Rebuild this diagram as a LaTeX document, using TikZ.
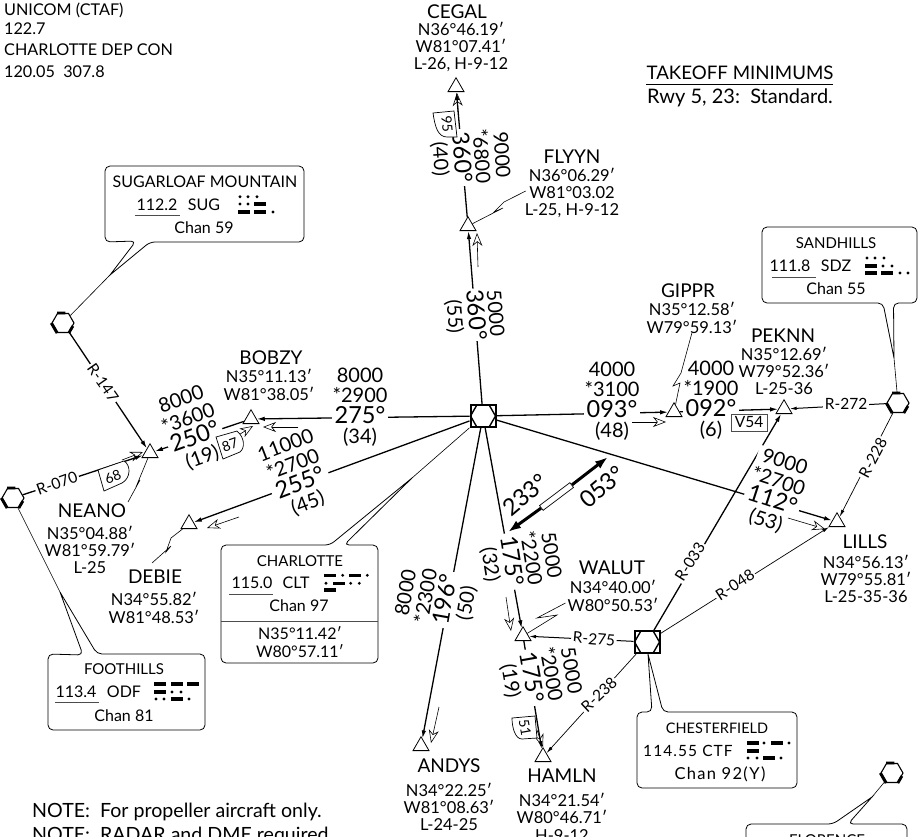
\documentclass[tikz,border=0pt]{standalone}
\usepackage{fontspec}
\setmainfont{Lato}
\usetikzlibrary{arrows.meta,shapes.geometric,calc}
\newcommand\fs[2]{\fontsize{#1}{#2}\selectfont}
\newcommand\mdsh[2]{\fill (#1,#2-1.6) rectangle (#1+11.5,#2+1.6);}
\newcommand\mdt[2]{\fill (#1,#2) circle (1.6pt);}
\newcommand\hexmark[3]{%
  \node[hexn] (#1) at (#2,#3) {};
  \draw[line width=3pt] (#1.corner 3) -- (#1.corner 4);
  \draw[line width=2.8pt] ($(#1.corner 1)!.3!(#1.corner 2)$) -- (#1.corner 2);
  \draw[line width=2.8pt] ($(#1.corner 6)!.3!(#1.corner 5)$) -- (#1.corner 5);
}
\newcommand\hdg[1]{{\fontsize{23.5}{0}\selectfont #1}}
\tikzset{
  trin/.style={draw,regular polygon,regular polygon sides=3,minimum size=18.5pt,inner sep=0pt,line width=.8pt,fill=white},
  hexn/.style={draw,regular polygon,regular polygon sides=6,minimum size=22pt,inner sep=0pt,line width=1.1pt,fill=white},
  hubbox/.style={draw,rectangle,minimum width=25pt,minimum height=22pt,inner sep=0pt,line width=2pt},
  hubhex/.style={draw,regular polygon,regular polygon sides=6,minimum size=25pt,inner sep=0pt,line width=1.4pt},
  route/.style={line width=1.3pt,-{Latex[length=8pt,width=4.5pt]}},
  rad/.style={line width=.7pt,-{Latex[length=7pt,width=3.5pt]}},
  radm/.style={line width=1pt,-{Latex[length=7pt,width=3.5pt]}},
  hollow/.style={line width=.6pt,-{Stealth[open,length=13pt,width=10pt,inset=4pt]}},
  leader/.style={line width=.6pt},
  callout/.style={draw,line width=.8pt,fill=white,rounded corners=5pt},
  nm/.style={inner sep=0pt,font=\fs{19}{20}},
  crd/.style={inner sep=0pt,align=center,font=\fs{16.5}{17.4}},
  bxt/.style={inner sep=0pt,font=\fs{16}{17}},
  bxs/.style={inner sep=0pt,font=\fs{15}{17}},
  blk/.style={inner sep=1pt,fill=white,align=center,font={\fs{20}{20.5}\lineskiplimit=-100pt}},
  rlab/.style={inner sep=1.5pt,fill=white,font=\fs{15.5}{17}},
  flg/.style={inner sep=0pt,font=\fs{14}{15}},
  txt/.style={inner sep=0pt,anchor=west,font=\fs{16.2}{18}},
}
\begin{document}
\begin{tikzpicture}[x=1pt,y=-1pt]
\useasboundingbox (0,0) rectangle (919,836);
\clip (0,0) rectangle (919,836);
\fill[white] (0,0) rectangle (919,836);
% header texts
\node[txt] (t1) at (4,10) {UNICOM (CTAF)};
\node[txt] (t2) at (4,29) {122.7};
\node[txt] (t3) at (4,50) {CHARLOTTE DEP CON};
\node[txt] (t4) at (4,72) {120.05\ \ 307.8};
\node[inner sep=0pt,font=\fs{18.7}{20}] (tk) at (740,73) {TAKEOFF MINIMUMS};
\node[inner sep=0pt,font=\fs{20}{21}] (rw) at (740,98) {Rwy 5, 23:\ \ Standard.};
\draw[line width=.8pt] (646,84.5) -- (833,84.5);
\node[inner sep=0pt,anchor=west,font=\fs{19.6}{21}] (n1) at (32,812) {NOTE:\ \ For propeller aircraft only.};
\node[inner sep=0pt,anchor=west,font=\fs{19.6}{21}] (n2) at (32,836) {NOTE:\ \ RADAR and DME required.};
% fixes
\node[hubbox] (hub) at (483,416) {};
\node[hubhex] (hubh) at (483,416) {};
\node[hubbox] (ctf) at (647,642) {};
\node[hubhex] (ctfh) at (647,642) {};
\node[trin] (bobzy) at (251,419) {};
\node[trin] (neano) at (150,453) {};
\node[trin] (debie) at (189,524) {};
\node[trin] (gippr) at (674,412) {};
\node[trin] (pekn) at (784,409) {};
\node[trin] (lills) at (837,522) {};
\node[trin] (walut) at (523,636) {};
\node[trin] (andys) at (421,746) {};
\node[trin] (hamln) at (543,757) {};
\node[trin] (cegal) at (456,87) {};
\node[trin] (flyyn) at (468,226) {};
\hexmark{sug}{63}{323}
\hexmark{odf}{13}{498}
\hexmark{sdz}{898}{403}
\hexmark{flo}{892}{773}
% routes
\draw[route] (hub) -- (flyyn);
\draw[route] (flyyn) -- (cegal);
\draw[route] (hub) -- (bobzy);
\draw[route] (bobzy) -- (neano);
\draw[route] (hub) -- (debie);
\draw[route] (hub) -- (gippr);
\draw[route] (gippr) -- (pekn);
\draw[route] (hub) -- (lills);
\draw[route] (hub) -- (walut);
\draw[route] (walut) -- (hamln);
\draw[route] (hub) -- (andys);
\draw[route] (ctf) -- (pekn);
% radials
\draw[route] (sug) -- (neano);
\draw[route] (odf) -- (neano);
\draw[radm] (sdz) -- (pekn);
\draw[rad] (sdz) -- (lills);
\draw[rad] (ctf) -- (lills);
\draw[radm] (ctf) -- (walut);
\draw[rad] (ctf) -- (hamln);
% radial labels
\node[rlab,rotate=-55] (r147) at (103,383) {R-147};
\node[rlab,rotate=20] (r070) at (57,483) {R-070};
\node[rlab] (r272) at (846,404) {R-272};
\node[rlab,rotate=62] (r228) at (873,458) {R-228};
\node[rlab,rotate=58] (r033) at (690,562) {R-033};
\node[rlab,rotate=33] (r048) at (735,585) {R-048};
\node[rlab,rotate=-5] (r275) at (594,639) {R-275};
\node[rlab,rotate=43] (r238) at (599,695) {R-238};
% route blocks
\node[blk,rotate=-85] (b1) at (474,315) {5000\\\hdg{360°}\\(55)};
\node[blk,rotate=-86] (b2) at (470,157) {9000\\*6800\\\hdg{360°}\\(40)};
\node[blk] (b3) at (360,407) {8000\\*2900\\\hdg{275°}\\(34)};
\node[blk,rotate=20] (b4) at (192,429) {8000\\*3600\\\hdg{250°}\\(19)};
\node[blk,rotate=21] (b5) at (297,475) {11000\\*2700\\\hdg{255°}\\(45)};
\node[blk] (b6) at (612,401) {4000\\*3100\\\hdg{093°}\\(48)};
\node[blk] (b7) at (711,400) {4000\\*1900\\\hdg{092°}\\(6)};
\node[blk,rotate=-18] (b8) at (775,492) {9000\\*2700\\\hdg{112°}\\(53)};
\node[blk,rotate=-81] (b9) at (520,560) {5000\\*2200\\\hdg{175°}\\(32)};
\node[blk,rotate=-80] (b10) at (540,676) {5000\\*2000\\\hdg{175°}\\(19)};
\node[blk,rotate=80] (b11) at (437,598) {8000\\*2300\\\hdg{196°}\\(50)};
% hollow arrows
\coordinate (ha1) at (478,267); \coordinate (hb1) at (477,233);
\draw[hollow] (ha1) -- (hb1);
\coordinate (ha2) at (458,112); \coordinate (hb2) at (457,93);
\draw[hollow] (ha2) -- (hb2);
\coordinate (ha3) at (298,427); \coordinate (hb3) at (263,427);
\draw[hollow] (ha3) -- (hb3);
\coordinate (ha4) at (237,436); \coordinate (hb4) at (253,426);
\draw[hollow] (ha4) -- (hb4);
\coordinate (ha5) at (122,460); \coordinate (hb5) at (143,452);
\draw[hollow] (ha5) -- (hb5);
\coordinate (ha6) at (239,517); \coordinate (hb6) at (207,528);
\draw[hollow] (ha6) -- (hb6);
\coordinate (ha7) at (632,422); \coordinate (hb7) at (666,422);
\draw[hollow] (ha7) -- (hb7);
\coordinate (ha8) at (788,518); \coordinate (hb8) at (825,529);
\draw[hollow] (ha8) -- (hb8);
\coordinate (ha9) at (506,597); \coordinate (hb9) at (511,631);
\draw[hollow] (ha9) -- (hb9);
\coordinate (ha10) at (537,730); \coordinate (hb10) at (543,747);
\draw[hollow] (ha10) -- (hb10);
\coordinate (ha11) at (439,707); \coordinate (hb11) at (431,743);
\draw[hollow] (ha11) -- (hb11);
% flags
\draw[line width=.7pt,fill=white] (433,113) -- (454,111) -- (457,137) -- (447,137) .. controls (438,137) and (435,127) .. cycle;
\node[flg,rotate=-85] (f95) at (447,124) {95};
\draw[line width=.7pt,fill=white] (216,437) -- (237,431) .. controls (245,438) and (245,448) .. (240,452) -- (223,459) -- cycle;
\node[flg,rotate=20] (f87) at (230,445) {87};
\draw[line width=.7pt,fill=white] (98,470) -- (124,461) .. controls (131,465) and (131,478) .. (122,483) -- (104,491) -- cycle;
\node[flg,rotate=20] (f68) at (113,477) {68};
\draw[line width=.7pt,fill=white] (512,718) -- (535,716) -- (537,738) -- (522,739) .. controls (515,739) and (512,727) .. cycle;
\node[flg,rotate=-80] (f51) at (525,728) {51};
\node[draw=black!70,line width=.7pt,inner sep=0pt,minimum width=36pt,minimum height=17pt,font=\fs{15.5}{16},fill=white] (v54) at (749,422.5) {V54};
% 053/233 arrow
\node[draw,line width=.7pt,rotate=37,minimum width=38pt,minimum height=6pt,inner sep=0pt] (mid) at (556.5,496.5) {};
\coordinate (tipn) at (608,457);
\coordinate (tips) at (508,532);
\draw[line width=3pt,-{Latex[length=13pt,width=9pt]}] (mid.east) -- (tipn);
\draw[line width=3pt,-{Latex[length=13pt,width=9pt]}] (mid.west) -- (tips);
\node[inner sep=0pt,rotate=40,font=\fs{23.5}{26}] (c053) at (602,487) {053°};
\node[inner sep=0pt,rotate=40,font=\fs{23.5}{26}] (c233) at (525,495) {233°};
% fix names
\node[nm] (n_cegal) at (457,12) {CEGAL};
\node[crd] (c_cegal) at (461,47) {N36°46.19′\\W81°07.41′\\L-26, H-9-12};
\node[nm] (n_flyyn) at (572,157) {FLYYN};
\node[crd] (c_flyyn) at (572,193) {N36°06.29′\\W81°03.02\\L-25, H-9-12};
\node[nm] (n_bobzy) at (271,358) {BOBZY};
\node[crd] (c_bobzy) at (269,385) {N35°11.13′\\W81°38.05′};
\node[nm] (n_neano) at (92,511) {NEANO};
\node[crd] (c_neano) at (90,550) {N35°04.88′\\W81°59.79′\\L-25};
\node[nm] (n_debie) at (155,577) {DEBIE};
\node[crd] (c_debie) at (154,608) {N34°55.82′\\W81°48.53′};
\node[nm] (n_gippr) at (688,291) {GIPPR};
\node[crd] (c_gippr) at (692,318) {N35°12.58′\\W79°59.13′};
\node[nm] (n_pekn) at (783,336) {PEKNN};
\node[crd] (c_pekn) at (784,371) {N35°12.69′\\W79°52.36′\\L-25-36};
\node[nm] (n_lills) at (865,542) {LILLS};
\node[crd] (c_lills) at (866,579) {N34°56.13′\\W79°55.81′\\L-25-35-36};
\node[nm] (n_walut) at (612,568) {WALUT};
\node[crd] (c_walut) at (613,596) {N34°40.00′\\W80°50.53′};
\node[nm] (n_andys) at (449,766) {ANDYS};
\node[crd] (c_andys) at (449,807) {N34°22.25′\\W81°08.63′\\L-24-25};
\node[nm] (n_hamln) at (562,776) {HAMLN};
\node[crd] (c_hamln) at (562,817) {N34°21.54′\\W80°46.71′\\H-9-12};
% zigzag leaders
\draw[leader] (c_gippr.south) ++(0,-1) -- (681,373) -- (673,386) -- (680,383) -- (gippr);
\draw[leader] (c_flyyn.west) ++(1,-2) -- (504,202) -- (494,212) -- (503,208) -- (flyyn);
\draw[leader] (neano) -- (143,470) -- (136,487) -- (140,480) -- (128,502);
\draw[leader] (debie) -- (171,538) -- (166,552) -- (171,546) -- (152,563);
\draw[leader] (c_walut.west) ++(-2,7) -- (537,618) -- (557,615) -- (walut);
% callouts
\coordinate (asug) at (110,275);
\draw[callout] (150,242) [sharp corners] -- (asug) [rounded corners=5pt] -- (136,241) -- (105,242) -- (105,166) -- (304,166) -- (304,242) -- cycle;
\draw[leader] (asug) -- (sug);
\coordinate (aodf) at (60,592);
\draw[callout] (97,654) [sharp corners] -- (aodf) [rounded corners=5pt] -- (83,655) -- (48,654) -- (48,730) -- (205,730) -- (205,654) -- cycle;
\draw[leader] (aodf) -- (odf);
\coordinate (aclt) at (412,478);
\draw[callout] (330,545) [sharp corners] -- (aclt) [rounded corners=5pt] -- (344,545) -- (378,545) -- (378,663) -- (221,663) -- (221,545) -- cycle;
\draw[leader] (aclt) -- (hub);
\draw[line width=.8pt,black!70] (221,621) -- (378,621);
\coordinate (asdz) at (894,358);
\draw[callout] (883,303) [sharp corners] -- (asdz) [rounded corners=5pt] -- (893.5,303) -- (917,303) -- (917,227) -- (762,227) -- (762,303) -- cycle;
\draw[leader] (asdz) -- (sdz);
\coordinate (actf) at (648,654);
\draw[callout] (663,712) [sharp corners] -- (actf) [rounded corners=5pt] -- (652,712) -- (637,712) -- (637,788) -- (797,788) -- (797,712) -- cycle;
\coordinate (aflo) at (872,797);
\draw[callout] (833,824) [sharp corners] -- (aflo) [rounded corners=5pt] -- (848,824) -- (907,824) -- (907,870) -- (746,870) -- (746,824) -- cycle;
\draw[leader] (aflo) -- (flo);
% callout texts
\node[bxt] (s1) at (205,182) {SUGARLOAF MOUNTAIN};
\node[bxt] (s2) at (157,205) {112.2};
\node[bxt] (s3) at (204,205) {SUG};
\node[bxt] (s4) at (204,228) {Chan 59};
\draw[line width=.6pt,black!70] (135,215) -- (180,215);
\mdt{240}{196.7}\mdt{248}{196.7}\mdt{257}{196.7}
\mdt{240}{204}\mdt{248}{204}\mdsh{254}{204}
\mdsh{238}{212}\mdsh{254}{212}\mdt{273}{212}
\node[bxs] (o1) at (124,669) {FOOTHILLS};
\node[bxt] (o2) at (76,692) {113.4};
\node[bxt] (o3) at (124,692) {ODF};
\node[bxt] (o4) at (124,716) {Chan 81};
\draw[line width=.6pt,black!70] (55,702) -- (99,702);
\mdsh{154}{684}\mdsh{171}{684}\mdsh{187}{684}
\mdsh{154}{692}\mdt{172}{692}\mdt{181}{692}
\mdt{156}{699}\mdt{164}{699}\mdsh{171}{699}\mdt{189}{699}
\node[bxs] (l1) at (300,561) {CHARLOTTE};
\node[bxt] (l2) at (252,583) {115.0};
\node[bxt] (l3) at (296,583) {CLT};
\node[bxt] (l4) at (299,606) {Chan 97};
\node[bxt] (l5) at (300,633) {N35°11.42′};
\node[bxt] (l6) at (300,651) {W80°57.11′};
\draw[line width=.6pt,black!70] (229,594) -- (273,594);
\mdsh{324.3}{575.3}\mdt{342.7}{575.3}\mdsh{349.3}{575.3}\mdt{367.3}{575.3}
\mdt{326}{583.3}\mdsh{333.3}{583.3}\mdt{350.7}{583.3}\mdt{359.3}{583.3}
\mdsh{324.3}{590}
\node[bxs] (z1) at (836,243) {SANDHILLS};
\node[bxt] (z2) at (790,266) {111.8};
\node[bxt] (z3) at (836,266) {SDZ};
\node[bxt] (z4) at (836,289) {Chan 55};
\draw[line width=.6pt,black!70] (772,277) -- (816,277);
\mdt{867}{258}\mdt{875}{258}\mdt{884}{258}
\mdsh{865}{266}\mdt{883}{266}\mdt{892}{266}
\mdsh{865}{273}\mdsh{881}{273}\mdt{900}{273}\mdt{908}{273}
\node[inner sep=0pt,font=\fs{14.5}{17}] (e1) at (717,728) {CHESTERFIELD};
\node[bxt,anchor=west,font=\addfontfeatures{LetterSpace=7}\fs{15.5}{17}] (e2) at (643,751) {114.55 CTF};
\node[bxt,font=\addfontfeatures{LetterSpace=8}\fs{16.5}{17}] (e3) at (720,774) {Chan 92(Y)};
\mdsh{747}{743}\mdt{764}{743}\mdsh{771}{743}\mdt{789}{743}
\mdsh{747}{751}
\mdt{748}{758}\mdt{757}{758}\mdsh{763}{758}\mdt{781}{758}
\node[bxs] (fl) at (827,840) {FLORENCE};
\end{tikzpicture}
\end{document}
